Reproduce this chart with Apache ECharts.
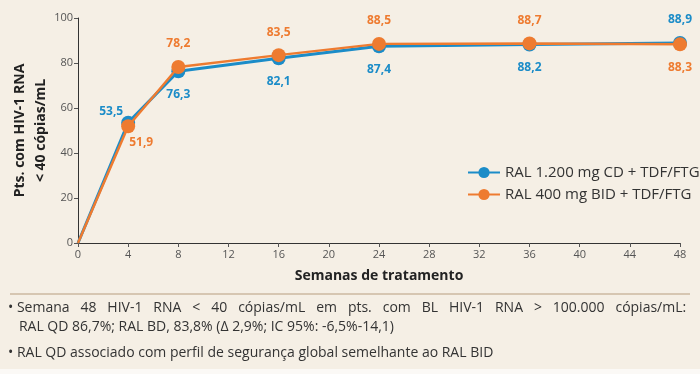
<!DOCTYPE html>
<html>
<head>
<meta charset="utf-8">
<script src="https://cdn.jsdelivr.net/npm/echarts@6/dist/echarts.min.js"></script>
<style>
html,body{margin:0;padding:0;background:#fff;}
#chart{width:700px;height:374px;}
</style>
</head>
<body>
<div id="chart"></div>
<script>
// semanas com medição
var semanas = [0, 4, 8, 16, 24, 36, 48];
var nomes = ['RAL 1.200 mg CD + TDF/FTG', 'RAL 400 mg BID + TDF/FTG'];
var valoresCD = [0, 53.5, 76.3, 82.1, 87.4, 88.2, 88.9];
var valoresBID = [0, 51.9, 78.2, 83.5, 88.5, 88.7, 88.3];
var rotulosCD = ['', '53,5', '76,3', '82,1', '87,4', '88,2', '88,9'];
var rotulosBID = ['', '51,9', '78,2', '83,5', '88,5', '88,7', '88,3'];
var notas = [
  '• Semana   48   HIV-1   RNA   <   40   cópias/mL   em   pts.   com   BL   HIV-1   RNA   >   100.000   cópias/mL:',
  '   RAL QD 86,7%; RAL BD, 83,8% (Δ 2,9%; IC 95%: -6,5%-14,1)',
  '• RAL QD associado com perfil de segurança global semelhante ao RAL BID'
];

var azul = '#1b8cc8';
var laranja = '#ee7b30';
var fonte = "'Open Sans', sans-serif";

// posição dos rótulos (estilo, fora dos dados)
var posCD = ['top', [-17, -11], 'bottom', 'bottom', 'bottom', 'bottom', 'top'];
var posBID = ['top', [13, 16], 'top', 'top', 'top', 'top', 'bottom'];

function montar(valores, rotulos, pos, cor) {
  return valores.map(function (v, i) {
    var p = pos[i];
    var lab = {show: rotulos[i] !== '', formatter: rotulos[i], color: cor,
      fontWeight: 'bold', fontSize: 12, fontFamily: fonte, distance: 10};
    if (Array.isArray(p)) { lab.position = 'inside'; lab.offset = p; }
    else lab.position = p;
    return {value: [semanas[i], v], label: lab, symbolSize: i === 0 ? 0 : 14};
  });
}

var chart = echarts.init(document.getElementById('chart'));
chart.setOption({
  backgroundColor: '#f5efe5',
  animation: false,
  grid: {left: 78, right: 20, top: 18, bottom: 131, containLabel: false, outerBoundsMode: 'none'},
  legend: {
    data: nomes, orient: 'vertical', left: 462, top: 160, itemGap: 7,
    itemWidth: 32, itemHeight: 14,
    textStyle: {fontSize: 15, color: '#333', fontFamily: fonte}
  },
  xAxis: {
    type: 'value', min: 0, max: 48, interval: 4,
    name: 'Semanas de tratamento', nameLocation: 'middle', nameGap: 26,
    nameTextStyle: {fontSize: 14, fontWeight: 'bold', color: '#222', fontFamily: fonte},
    axisLine: {lineStyle: {color: '#333', width: 1}},
    axisTick: {length: 4, lineStyle: {color: '#555'}},
    axisLabel: {color: '#555', fontSize: 11, fontFamily: fonte, margin: 6},
    splitLine: {show: false}
  },
  yAxis: {
    type: 'value', min: 0, max: 100, interval: 20,
    name: 'Pts. com HIV-1 RNA\n< 40 cópias/mL', nameLocation: 'middle', nameGap: 26,
    nameMoveOverlap: false,
    nameTextStyle: {fontSize: 14, fontWeight: 'bold', color: '#222', fontFamily: fonte, lineHeight: 21},
    axisLine: {show: true, lineStyle: {color: '#333', width: 1}},
    axisTick: {show: true, length: 4, lineStyle: {color: '#555'}},
    axisLabel: {color: '#555', fontSize: 11, fontFamily: fonte, margin: 5},
    splitLine: {show: false}
  },
  graphic: [
    {type: 'rect', shape: {x: 0, y: 369, width: 700, height: 5}, style: {fill: '#fbf9f6'}},
    {type: 'line', shape: {x1: 10, y1: 294, x2: 690, y2: 294}, style: {stroke: '#b79d7e', lineWidth: 1}},
    {type: 'text', left: 8, top: 301, style: {text: notas[0], fontSize: 14, fill: '#333', fontFamily: fonte}},
    {type: 'text', left: 8, top: 320, style: {text: notas[1], fontSize: 14, fill: '#333', fontFamily: fonte}},
    {type: 'text', left: 8, top: 346, style: {text: notas[2], fontSize: 14, fill: '#333', fontFamily: fonte}}
  ],
  series: [
    {name: nomes[0], type: 'line', data: montar(valoresCD, rotulosCD, posCD, azul),
      symbol: 'circle', color: azul, lineStyle: {width: 3, color: azul}, z: 2},
    {name: nomes[1], type: 'line', data: montar(valoresBID, rotulosBID, posBID, laranja),
      symbol: 'circle', color: laranja, lineStyle: {width: 2.5, color: laranja}, z: 3}
  ]
});
</script>
</body>
</html>
